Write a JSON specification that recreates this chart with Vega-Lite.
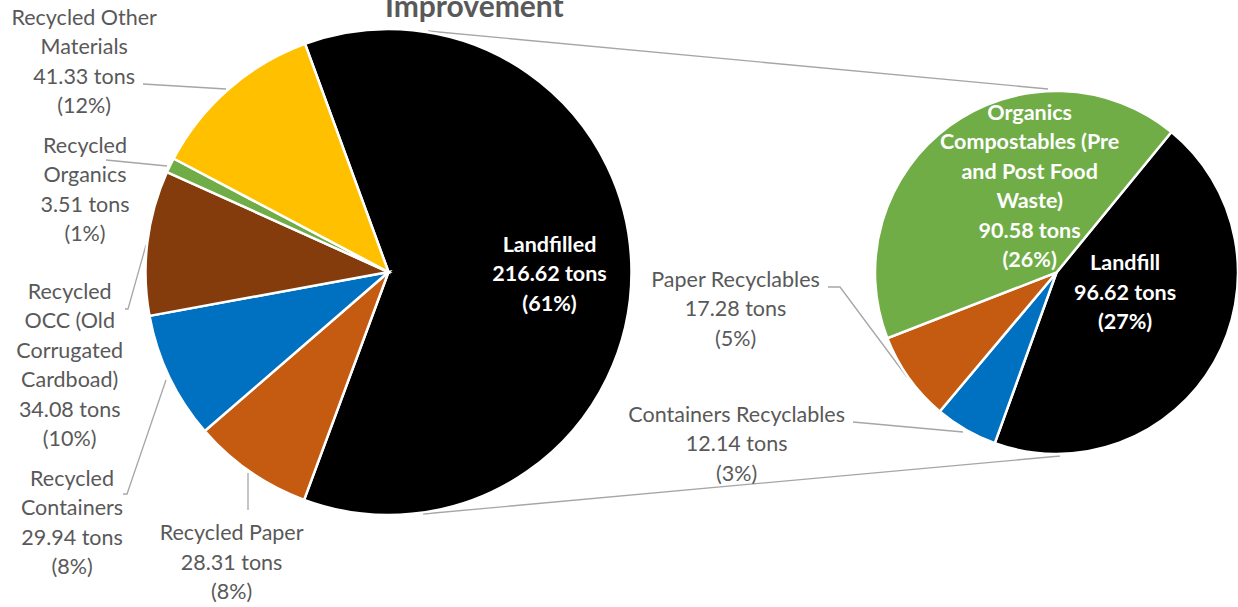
{
  "$schema": "https://vega.github.io/schema/vega-lite/v6.json",
  "width": 1238,
  "height": 607,
  "autosize": {"type": "none"},
  "padding": 0,
  "background": "white",
  "config": {"view": {"stroke": null}, "font": "Lato"},
  "title": {"text": "Improvement", "font": "Lato", "fontSize": 30, "fontWeight": "bold", "color": "#595959", "anchor": "start", "frame": "group", "dx": 385, "dy": 46.5, "offset": 0, "baseline": "alphabetic"},
  "datasets": {
    "main": [
      {"pie": "Main", "category": "Landfilled", "tons": 216.62, "ord": 1, "label": "Landfilled\n216.62 tons\n(61%)"},
      {"pie": "Main", "category": "Recycled Paper", "tons": 28.31, "ord": 2, "label": "Recycled Paper\n28.31 tons\n(8%)"},
      {"pie": "Main", "category": "Recycled Containers", "tons": 29.94, "ord": 3, "label": "Recycled\nContainers\n29.94 tons\n(8%)"},
      {"pie": "Main", "category": "Recycled OCC (Old Corrugated Cardboad)", "tons": 34.08, "ord": 4, "label": "Recycled\nOCC (Old\nCorrugated\nCardboad)\n34.08 tons\n(10%)"},
      {"pie": "Main", "category": "Recycled Organics", "tons": 3.51, "ord": 5, "label": "Recycled\nOrganics\n3.51 tons\n(1%)"},
      {"pie": "Main", "category": "Recycled Other Materials", "tons": 41.33, "ord": 6, "label": "Recycled Other\nMaterials\n41.33 tons\n(12%)"}
    ],
    "detail": [
      {"pie": "Detail", "category": "Landfill", "tons": 96.62, "ord": 1, "label": "Landfill\n96.62 tons\n(27%)"},
      {"pie": "Detail", "category": "Containers Recyclables", "tons": 12.14, "ord": 2, "label": "Containers Recyclables\n12.14 tons\n(3%)"},
      {"pie": "Detail", "category": "Paper Recyclables", "tons": 17.28, "ord": 3, "label": "Paper Recyclables\n17.28 tons\n(5%)"},
      {"pie": "Detail", "category": "Organics Compostables (Pre and Post Food Waste)", "tons": 90.58, "ord": 4, "label": "Organics\nCompostables (Pre\nand Post Food\nWaste)\n90.58 tons\n(26%)"}
    ],
    "connectors": [
      {"edge": "top", "x_start": 428, "y_start": 31, "x_end": 1048, "y_end": 89},
      {"edge": "bottom", "x_start": 423, "y_start": 514, "x_end": 1060, "y_end": 456}
    ],
    "leaders": [
      {"label": "Recycled Other Materials", "step": 1, "px": 143, "py": 84},
      {"label": "Recycled Other Materials", "step": 2, "px": 226, "py": 89},
      {"label": "Recycled Organics", "step": 1, "px": 106, "py": 160},
      {"label": "Recycled Organics", "step": 2, "px": 167, "py": 166},
      {"label": "Recycled OCC", "step": 1, "px": 125, "py": 309},
      {"label": "Recycled OCC", "step": 2, "px": 128, "py": 309},
      {"label": "Recycled OCC", "step": 3, "px": 146, "py": 245},
      {"label": "Recycled Containers", "step": 1, "px": 123, "py": 494},
      {"label": "Recycled Containers", "step": 2, "px": 127, "py": 494},
      {"label": "Recycled Containers", "step": 3, "px": 166, "py": 380},
      {"label": "Recycled Paper", "step": 1, "px": 248, "py": 473},
      {"label": "Recycled Paper", "step": 2, "px": 248, "py": 510},
      {"label": "Paper Recyclables", "step": 1, "px": 828, "py": 287},
      {"label": "Paper Recyclables", "step": 2, "px": 840, "py": 287},
      {"label": "Paper Recyclables", "step": 3, "px": 907, "py": 377},
      {"label": "Containers Recyclables", "step": 1, "px": 853, "py": 422},
      {"label": "Containers Recyclables", "step": 2, "px": 963, "py": 432}
    ]
  },
  "resolve": {"scale": {"x": "independent", "y": "independent", "theta": "independent", "color": "independent"}},
  "layer": [
    {
      "data": {"name": "connectors"},
      "mark": {"type": "rule", "color": "#A6A6A6", "strokeWidth": 1.3},
      "encoding": {
        "x": {"field": "x_start", "type": "quantitative", "scale": {"domain": [0, 1238], "nice": false, "zero": false}, "axis": null},
        "y": {"field": "y_start", "type": "quantitative", "scale": {"domain": [0, 607], "reverse": true, "nice": false, "zero": false}, "axis": null},
        "x2": {"field": "x_end"},
        "y2": {"field": "y_end"}
      }
    },
    {
      "data": {"name": "leaders"},
      "mark": {"type": "line", "color": "#A6A6A6", "strokeWidth": 1.3},
      "encoding": {
        "x": {"field": "px", "type": "quantitative", "scale": {"domain": [0, 1238], "nice": false, "zero": false}, "axis": null},
        "y": {"field": "py", "type": "quantitative", "scale": {"domain": [0, 607], "reverse": true, "nice": false, "zero": false}, "axis": null},
        "detail": {"field": "label"},
        "order": {"field": "step", "type": "quantitative"}
      }
    },
    {
      "data": {"name": "main"},
      "mark": {"type": "arc", "outerRadius": 243, "stroke": "white", "strokeWidth": 2.5},
      "encoding": {
        "x": {"field": "pie", "type": "nominal", "scale": {"type": "point", "domain": ["Main", "Detail"], "range": [388.5, 1056.5], "padding": 0}, "axis": null},
        "y": {"field": "pie", "type": "nominal", "scale": {"type": "point", "domain": ["Main", "Detail"], "range": [272, 272.5], "padding": 0}, "axis": null},
        "theta": {"field": "tons", "type": "quantitative", "stack": true, "scale": {"range": [5.9324, 12.2156], "zero": true, "nice": false}},
        "order": {"field": "ord", "type": "quantitative"},
        "color": {"field": "category", "type": "nominal", "legend": null, "scale": {
          "domain": ["Landfilled", "Recycled Paper", "Recycled Containers", "Recycled OCC (Old Corrugated Cardboad)", "Recycled Organics", "Recycled Other Materials"],
          "range": ["#000000", "#C55A11", "#0070C0", "#843C0C", "#70AD47", "#FFC000"]}}
      }
    },
    {
      "data": {"name": "detail"},
      "mark": {"type": "arc", "outerRadius": 181.5, "stroke": "white", "strokeWidth": 2.5},
      "encoding": {
        "x": {"field": "pie", "type": "nominal", "scale": {"type": "point", "domain": ["Main", "Detail"], "range": [388.5, 1056.5], "padding": 0}, "axis": null},
        "y": {"field": "pie", "type": "nominal", "scale": {"type": "point", "domain": ["Main", "Detail"], "range": [272, 272.5], "padding": 0}, "axis": null},
        "theta": {"field": "tons", "type": "quantitative", "stack": true, "scale": {"range": [0.6859, 6.9691], "zero": true, "nice": false}},
        "order": {"field": "ord", "type": "quantitative"},
        "color": {"field": "category", "type": "nominal", "legend": null, "scale": {
          "domain": ["Landfill", "Containers Recyclables", "Paper Recyclables", "Organics Compostables (Pre and Post Food Waste)"],
          "range": ["#000000", "#0070C0", "#C55A11", "#70AD47"]}}
      }
    },
    {
      "data": {"name": "main"},
      "mark": {"type": "text", "clip": true, "radius": 162, "dx": -1, "dy": -26.5, "lineBreak": "\n", "font": "Lato", "fontSize": 21.5, "fontWeight": "bold", "lineHeight": 29.5, "color": "white", "align": "center", "baseline": "middle"},
      "encoding": {
        "x": {"field": "pie", "type": "nominal", "scale": {"type": "point", "domain": ["Main", "Detail"], "range": [388.5, 1056.5], "padding": 0}, "axis": null},
        "y": {"field": "pie", "type": "nominal", "scale": {"type": "point", "domain": ["Main", "Detail"], "range": [272, 272.5], "padding": 0}, "axis": null},
        "theta": {"field": "tons", "type": "quantitative", "stack": true, "scale": {"range": [5.9324, 12.2156], "zero": true, "nice": false}},
        "order": {"field": "ord", "type": "quantitative"},
        "detail": {"field": "category"},
        "text": {"condition": {"test": "datum.category === 'Landfilled'", "field": "label"}, "value": ""}
      }
    },
    {
      "data": {"name": "main"},
      "mark": {"type": "text", "clip": true, "radius": 300, "dx": 14, "dy": 15.5, "lineBreak": "\n", "font": "Lato", "fontSize": 21.5, "lineHeight": 29.5, "color": "#595959", "align": "center", "baseline": "middle"},
      "encoding": {
        "x": {"field": "pie", "type": "nominal", "scale": {"type": "point", "domain": ["Main", "Detail"], "range": [388.5, 1056.5], "padding": 0}, "axis": null},
        "y": {"field": "pie", "type": "nominal", "scale": {"type": "point", "domain": ["Main", "Detail"], "range": [272, 272.5], "padding": 0}, "axis": null},
        "theta": {"field": "tons", "type": "quantitative", "stack": true, "scale": {"range": [5.9324, 12.2156], "zero": true, "nice": false}},
        "order": {"field": "ord", "type": "quantitative"},
        "detail": {"field": "category"},
        "text": {"condition": {"test": "datum.category === 'Recycled Paper'", "field": "label"}, "value": ""}
      }
    },
    {
      "data": {"name": "main"},
      "mark": {"type": "text", "clip": true, "radius": 300, "dx": -46, "dy": 77.75, "lineBreak": "\n", "font": "Lato", "fontSize": 21.5, "lineHeight": 29.5, "color": "#595959", "align": "center", "baseline": "middle"},
      "encoding": {
        "x": {"field": "pie", "type": "nominal", "scale": {"type": "point", "domain": ["Main", "Detail"], "range": [388.5, 1056.5], "padding": 0}, "axis": null},
        "y": {"field": "pie", "type": "nominal", "scale": {"type": "point", "domain": ["Main", "Detail"], "range": [272, 272.5], "padding": 0}, "axis": null},
        "theta": {"field": "tons", "type": "quantitative", "stack": true, "scale": {"range": [5.9324, 12.2156], "zero": true, "nice": false}},
        "order": {"field": "ord", "type": "quantitative"},
        "detail": {"field": "category"},
        "text": {"condition": {"test": "datum.category === 'Recycled Containers'", "field": "label"}, "value": ""}
      }
    },
    {
      "data": {"name": "main"},
      "mark": {"type": "text", "clip": true, "radius": 300, "dx": -21, "dy": 56.75, "lineBreak": "\n", "font": "Lato", "fontSize": 21.5, "lineHeight": 29.5, "color": "#595959", "align": "center", "baseline": "middle"},
      "encoding": {
        "x": {"field": "pie", "type": "nominal", "scale": {"type": "point", "domain": ["Main", "Detail"], "range": [388.5, 1056.5], "padding": 0}, "axis": null},
        "y": {"field": "pie", "type": "nominal", "scale": {"type": "point", "domain": ["Main", "Detail"], "range": [272, 272.5], "padding": 0}, "axis": null},
        "theta": {"field": "tons", "type": "quantitative", "stack": true, "scale": {"range": [5.9324, 12.2156], "zero": true, "nice": false}},
        "order": {"field": "ord", "type": "quantitative"},
        "detail": {"field": "category"},
        "text": {"condition": {"test": "datum.category === 'Recycled OCC (Old Corrugated Cardboad)'", "field": "label"}, "value": ""}
      }
    },
    {
      "data": {"name": "main"},
      "mark": {"type": "text", "clip": true, "radius": 300, "dx": -34, "dy": 6.75, "lineBreak": "\n", "font": "Lato", "fontSize": 21.5, "lineHeight": 29.5, "color": "#595959", "align": "center", "baseline": "middle"},
      "encoding": {
        "x": {"field": "pie", "type": "nominal", "scale": {"type": "point", "domain": ["Main", "Detail"], "range": [388.5, 1056.5], "padding": 0}, "axis": null},
        "y": {"field": "pie", "type": "nominal", "scale": {"type": "point", "domain": ["Main", "Detail"], "range": [272, 272.5], "padding": 0}, "axis": null},
        "theta": {"field": "tons", "type": "quantitative", "stack": true, "scale": {"range": [5.9324, 12.2156], "zero": true, "nice": false}},
        "order": {"field": "ord", "type": "quantitative"},
        "detail": {"field": "category"},
        "text": {"condition": {"test": "datum.category === 'Recycled Organics'", "field": "label"}, "value": ""}
      }
    },
    {
      "data": {"name": "main"},
      "mark": {"type": "text", "clip": true, "radius": 300, "dx": -107, "dy": -27.25, "lineBreak": "\n", "font": "Lato", "fontSize": 21.5, "lineHeight": 29.5, "color": "#595959", "align": "center", "baseline": "middle"},
      "encoding": {
        "x": {"field": "pie", "type": "nominal", "scale": {"type": "point", "domain": ["Main", "Detail"], "range": [388.5, 1056.5], "padding": 0}, "axis": null},
        "y": {"field": "pie", "type": "nominal", "scale": {"type": "point", "domain": ["Main", "Detail"], "range": [272, 272.5], "padding": 0}, "axis": null},
        "theta": {"field": "tons", "type": "quantitative", "stack": true, "scale": {"range": [5.9324, 12.2156], "zero": true, "nice": false}},
        "order": {"field": "ord", "type": "quantitative"},
        "detail": {"field": "category"},
        "text": {"condition": {"test": "datum.category === 'Recycled Other Materials'", "field": "label"}, "value": ""}
      }
    },
    {
      "data": {"name": "detail"},
      "mark": {"type": "text", "clip": true, "radius": 80, "dx": -1, "dy": -47.5, "lineBreak": "\n", "font": "Lato", "fontSize": 21.5, "fontWeight": "bold", "lineHeight": 29.5, "color": "white", "align": "center", "baseline": "middle"},
      "encoding": {
        "x": {"field": "pie", "type": "nominal", "scale": {"type": "point", "domain": ["Main", "Detail"], "range": [388.5, 1056.5], "padding": 0}, "axis": null},
        "y": {"field": "pie", "type": "nominal", "scale": {"type": "point", "domain": ["Main", "Detail"], "range": [272, 272.5], "padding": 0}, "axis": null},
        "theta": {"field": "tons", "type": "quantitative", "stack": true, "scale": {"range": [0.6859, 6.9691], "zero": true, "nice": false}},
        "order": {"field": "ord", "type": "quantitative"},
        "detail": {"field": "category"},
        "text": {"condition": {"test": "datum.category === 'Landfill'", "field": "label"}, "value": ""}
      }
    },
    {
      "data": {"name": "detail"},
      "mark": {"type": "text", "clip": true, "radius": 90, "dx": 26, "dy": -85.75, "lineBreak": "\n", "font": "Lato", "fontSize": 21.5, "fontWeight": "bold", "lineHeight": 29.5, "color": "white", "align": "center", "baseline": "middle"},
      "encoding": {
        "x": {"field": "pie", "type": "nominal", "scale": {"type": "point", "domain": ["Main", "Detail"], "range": [388.5, 1056.5], "padding": 0}, "axis": null},
        "y": {"field": "pie", "type": "nominal", "scale": {"type": "point", "domain": ["Main", "Detail"], "range": [272, 272.5], "padding": 0}, "axis": null},
        "theta": {"field": "tons", "type": "quantitative", "stack": true, "scale": {"range": [0.6859, 6.9691], "zero": true, "nice": false}},
        "order": {"field": "ord", "type": "quantitative"},
        "detail": {"field": "category"},
        "text": {"condition": {"test": "datum.category === 'Organics Compostables (Pre and Post Food Waste)'", "field": "label"}, "value": ""}
      }
    },
    {
      "data": {"name": "detail"},
      "mark": {"type": "text", "clip": true, "radius": 300, "dx": -77, "dy": -166.5, "lineBreak": "\n", "font": "Lato", "fontSize": 21.5, "lineHeight": 29.5, "color": "#595959", "align": "center", "baseline": "middle"},
      "encoding": {
        "x": {"field": "pie", "type": "nominal", "scale": {"type": "point", "domain": ["Main", "Detail"], "range": [388.5, 1056.5], "padding": 0}, "axis": null},
        "y": {"field": "pie", "type": "nominal", "scale": {"type": "point", "domain": ["Main", "Detail"], "range": [272, 272.5], "padding": 0}, "axis": null},
        "theta": {"field": "tons", "type": "quantitative", "stack": true, "scale": {"range": [0.6859, 6.9691], "zero": true, "nice": false}},
        "order": {"field": "ord", "type": "quantitative"},
        "detail": {"field": "category"},
        "text": {"condition": {"test": "datum.category === 'Paper Recyclables'", "field": "label"}, "value": ""}
      }
    },
    {
      "data": {"name": "detail"},
      "mark": {"type": "text", "clip": true, "radius": 300, "dx": -170, "dy": -116.5, "lineBreak": "\n", "font": "Lato", "fontSize": 21.5, "lineHeight": 29.5, "color": "#595959", "align": "center", "baseline": "middle"},
      "encoding": {
        "x": {"field": "pie", "type": "nominal", "scale": {"type": "point", "domain": ["Main", "Detail"], "range": [388.5, 1056.5], "padding": 0}, "axis": null},
        "y": {"field": "pie", "type": "nominal", "scale": {"type": "point", "domain": ["Main", "Detail"], "range": [272, 272.5], "padding": 0}, "axis": null},
        "theta": {"field": "tons", "type": "quantitative", "stack": true, "scale": {"range": [0.6859, 6.9691], "zero": true, "nice": false}},
        "order": {"field": "ord", "type": "quantitative"},
        "detail": {"field": "category"},
        "text": {"condition": {"test": "datum.category === 'Containers Recyclables'", "field": "label"}, "value": ""}
      }
    }
  ]
}
